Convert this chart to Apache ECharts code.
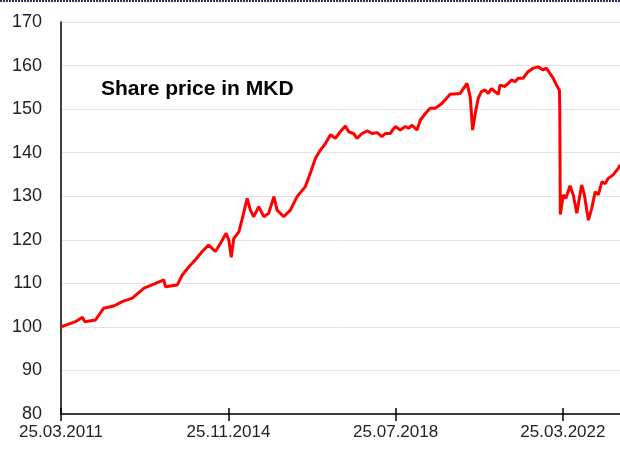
<!DOCTYPE html>
<html>
<head>
<meta charset="utf-8">
<script src="https://cdn.jsdelivr.net/npm/echarts@6/dist/echarts.min.js"></script>
<style>
  html, body { margin: 0; padding: 0; background: #fff; }
  #chart { width: 620px; height: 449px; }
</style>
</head>
<body>
<div id="chart"></div>
<script>
// dates
const dates = [
  '2011-03-25', '2011-07-19', '2011-09-12', '2011-10-02', '2011-12-27', '2012-03-01', '2012-05-20',
  '2012-07-27', '2012-10-16', '2013-01-18', '2013-04-06', '2013-06-25', '2013-07-09', '2013-10-10',
  '2013-11-20', '2014-01-12', '2014-03-05', '2014-04-28', '2014-06-19', '2014-08-12', '2014-09-22',
  '2014-11-06', '2014-11-28', '2014-12-17', '2015-01-06', '2015-02-16', '2015-03-26', '2015-04-23',
  '2015-05-19', '2015-06-15', '2015-07-25', '2015-09-03', '2015-10-13', '2015-11-23', '2015-12-19',
  '2016-02-10', '2016-04-03', '2016-05-27', '2016-08-01', '2016-09-10', '2016-10-21', '2016-11-30',
  '2017-01-09', '2017-02-18', '2017-03-29', '2017-05-08', '2017-06-17', '2017-07-14', '2017-08-22',
  '2017-09-19', '2017-10-29', '2017-12-09', '2018-01-17', '2018-02-27', '2018-04-06', '2018-05-03',
  '2018-06-11', '2018-07-22', '2018-08-31', '2018-10-10', '2018-11-05', '2018-12-03', '2019-01-12',
  '2019-02-08', '2019-03-20', '2019-04-27', '2019-06-07', '2019-07-30', '2019-10-04', '2019-12-24',
  '2020-02-16', '2020-03-13', '2020-04-01', '2020-04-22', '2020-05-16', '2020-06-11', '2020-07-09',
  '2020-08-04', '2020-08-31', '2020-09-27', '2020-10-24', '2020-11-06', '2020-12-16', '2021-01-11',
  '2021-02-08', '2021-03-07', '2021-03-31', '2021-05-11', '2021-06-19', '2021-07-30', '2021-09-08',
  '2021-10-18', '2021-11-13', '2021-12-11', '2022-01-06', '2022-02-02', '2022-02-25', '2022-02-28',
  '2022-03-04', '2022-03-28', '2022-04-17', '2022-05-21', '2022-06-16', '2022-07-14', '2022-08-22',
  '2022-09-13', '2022-10-15', '2022-11-11', '2022-12-08', '2023-01-03', '2023-01-31', '2023-02-27',
  '2023-03-23', '2023-05-01', '2023-06-11', '2023-06-25'
];
const prices = [
  100.0, 101.2, 102.2, 101.2, 101.6, 104.3, 104.8,
  105.8, 106.6, 108.9, 109.8, 110.8, 109.2, 109.6,
  111.9, 113.8, 115.4, 117.3, 118.8, 117.3, 119.2,
  121.5, 119.9, 116.0, 120.3, 121.8, 126.1, 129.5,
  126.8, 125.3, 127.6, 125.3, 126.1, 129.9, 126.8,
  125.3, 126.8, 129.9, 132.2, 135.3, 138.7, 140.6,
  142.1, 144.1, 143.3, 144.8, 146.1, 144.8, 144.4,
  143.3, 144.4, 145.0, 144.4, 144.6, 143.7, 144.4,
  144.4, 146.0, 145.2, 146.0, 145.6, 146.3, 145.2,
  147.5, 149.0, 150.2, 150.2, 151.3, 153.4, 153.6,
  155.9, 152.8, 145.2, 149.0, 152.5, 154.0, 154.4,
  153.6, 154.7, 154.0, 153.4, 155.5, 155.2, 155.9,
  156.7, 156.3, 157.1, 157.1, 158.6, 159.4, 159.7,
  159.0, 159.4, 158.2, 157.1, 155.5, 154.4, 149.8,
  125.8, 130.3, 129.5, 132.4, 130.3, 126.1, 132.6,
  130.3, 124.5, 127.2, 131.0, 130.4, 133.3, 132.9,
  134.1, 134.9, 136.4, 137.2
];
// x-axis tick dates
const tickDates = ['2011-03-25', '2014-11-25', '2018-07-25', '2022-03-25'];
const xStart = '2011-03-25';
const xEnd = '2023-06-25';

const ts = d => echarts.time.parse(d).getTime();
const seriesData = dates.map((d, i) => [ts(d), prices[i]]);
const tickValues = tickDates.map(ts);

const myChart = echarts.init(document.getElementById('chart'));

const font = 'Liberation Sans, Arial, sans-serif';

myChart.setOption({
  animation: false,
  title: {
    text: 'Share price in MKD',
    left: 96,
    top: 74,
    textStyle: { fontFamily: font, fontSize: 21, fontWeight: 'bold', color: '#000' }
  },
  grid: { left: 61, right: 0, top: 22, bottom: 35 },
  xAxis: [
    {
      type: 'value',
      min: ts(xStart),
      max: ts(xEnd),
      axisLine: { lineStyle: { color: '#000', width: 1.5 } },
      axisTick: { show: true, length: 7, customValues: tickValues, lineStyle: { color: '#000', width: 1.5 } },
      axisLabel: {
        customValues: tickValues,
        margin: 10,
        fontFamily: font,
        fontSize: 17,
        color: '#222',
        formatter: v => echarts.time.format(v, '{dd}.{MM}.{yyyy}', false)
      },
      splitLine: { show: false }
    },
    {
      // inner half of the crossing ticks
      type: 'value',
      position: 'bottom',
      min: ts(xStart),
      max: ts(xEnd),
      axisLine: { show: false },
      axisTick: { show: true, inside: true, length: 6, customValues: tickValues, lineStyle: { color: '#000', width: 1.5 } },
      axisLabel: { show: false },
      splitLine: { show: false }
    }
  ],
  yAxis: {
    type: 'value',
    min: 80,
    max: 170,
    interval: 10,
    axisLine: { show: true, lineStyle: { color: '#000', width: 1.5 } },
    axisTick: { show: false },
    axisLabel: { margin: 19, fontFamily: font, fontSize: 18, color: '#222' },
    splitLine: { lineStyle: { color: '#e3e3e3', width: 1 } }
  },
  graphic: [
    {
      type: 'line',
      shape: { x1: 0, y1: 1, x2: 620, y2: 1 },
      style: { stroke: '#2b3550', lineWidth: 2, lineDash: [2, 1] }
    }
  ],
  series: [
    {
      type: 'line',
      data: seriesData,
      showSymbol: false,
      lineStyle: { color: '#ff0000', width: 3 },
      z: 5
    }
  ]
});
</script>
</body>
</html>
